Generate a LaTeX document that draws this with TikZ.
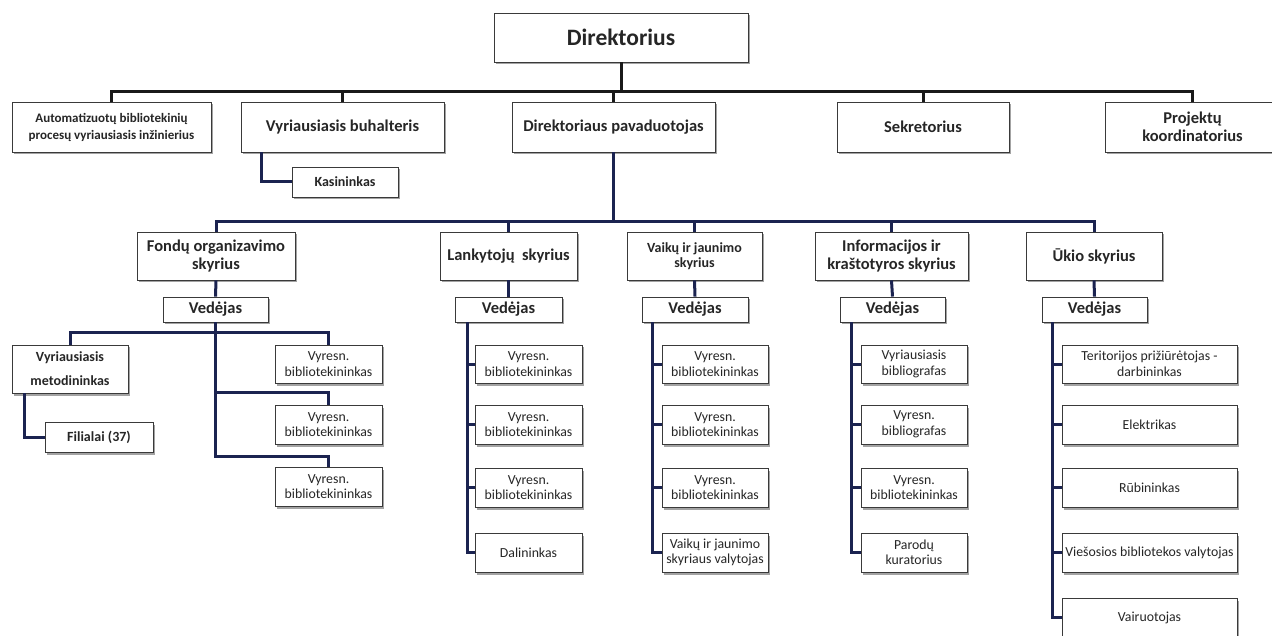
\documentclass[tikz,border=0pt]{standalone}
\usepackage{fontspec}
\setmainfont{Carlito}
\usetikzlibrary{shadows}
\definecolor{navy}{HTML}{1B2350}
\definecolor{bord}{HTML}{3A3A3A}
\begin{document}
\begin{tikzpicture}[x=1pt,y=-1pt,
  box/.style={draw=bord, line width=0.9pt, fill=white, align=center, inner sep=1pt, text=black!85,
    drop shadow={shadow xshift=1.5pt, shadow yshift=-2.5pt, fill=black!60, opacity=0.6}},
  sz/.style 2 args={minimum width=#1pt, minimum height=#2pt},
  fdir/.style={font=\bfseries\fontsize{23.5}{27}\selectfont},
  fbig/.style={font=\bfseries\fontsize{16.5}{18.5}\selectfont},
  fauto/.style={font=\bfseries\fontsize{13}{17}\selectfont},
  fsmallb/.style={font=\bfseries\fontsize{14}{15.5}\selectfont},
  fmet/.style={font=\bfseries\fontsize{14}{24}\selectfont},
  ffil/.style={font=\bfseries\fontsize{14}{16}\selectfont},
  fleaf/.style={font=\fontsize{13.8}{15.5}\selectfont},
  topline/.style={line width=3pt, black!90},
  subline/.style={line width=3pt, navy}
]
\useasboundingbox (0,0) rectangle (1272,636);
\clip (0,0) rectangle (1272,636);
\fill[white] (0,0) rectangle (1272,636);

% top
\node[box, sz={254}{49}, fdir] (dir) at (621,37.5) {Direktorius};
\node[box, sz={199}{50}, fauto] (auto) at (111.5,127) {Automatizuotų bibliotekinių\\procesų vyriausiasis inžinierius};
\node[box, sz={203}{50}, fbig] (buh) at (342.5,127) {Vyriausiasis buhalteris};
\node[box, sz={203}{50}, fbig] (pav) at (613.5,127) {Direktoriaus pavaduotojas};
\node[box, sz={172}{50}, fbig] (sek) at (923,127) {Sekretorius};
\node[box, sz={175}{50}, fbig] (proj) at (1192.5,127) {Projektų\\koordinatorius};
\node[box, sz={106}{30}, ffil] (kas) at (345,182) {Kasininkas};

% departments
\node[box, sz={158}{48}, fbig] (fond) at (216,256) {Fondų organizavimo\\skyrius};
\node[box, sz={137}{48}, fbig] (lank) at (508.5,256) {Lankytojų\ \ skyrius};
\node[box, sz={135}{48}, fsmallb] (vaik) at (694.5,256) {Vaikų ir jaunimo\\skyrius};
\node[box, sz={153}{48}, fbig] (info) at (891.5,256) {Informacijos ir\\kraštotyros skyrius};
\node[box, sz={136}{48}, fbig] (ukio) at (1094,256) {Ūkio skyrius};

% Vedejas
\node[box, sz={105}{25}, fbig] (fved) at (215.5,309.5) {Vedėjas};
\node[box, sz={107}{25}, fbig] (lved) at (508.5,309.5) {Vedėjas};
\node[box, sz={106}{25}, fbig] (vved) at (695,309.5) {Vedėjas};
\node[box, sz={105}{25}, fbig] (ived) at (892.5,309.5) {Vedėjas};
\node[box, sz={105}{25}, fbig] (uved) at (1094.5,309.5) {Vedėjas};

% Fondu subtree
\node[box, sz={116}{48}, fmet] (metod) at (70,369) {Vyriausiasis\\metodininkas};
\node[box, sz={108}{30}, ffil] (fil) at (99,437) {Filialai (37)};
\node[box, sz={107}{38}, fleaf] (fv1) at (328.5,364) {Vyresn.\\bibliotekininkas};
\node[box, sz={107}{39}, fleaf] (fv2) at (328.5,424.5) {Vyresn.\\bibliotekininkas};
\node[box, sz={107}{39}, fleaf] (fv3) at (328.5,486.5) {Vyresn.\\bibliotekininkas};

% Lankytoju
\node[box, sz={107}{38}, fleaf] (l1) at (528.5,364) {Vyresn.\\bibliotekininkas};
\node[box, sz={107}{39}, fleaf] (l2) at (528.5,424.5) {Vyresn.\\bibliotekininkas};
\node[box, sz={107}{39}, fleaf] (l3) at (528.5,487.5) {Vyresn.\\bibliotekininkas};
\node[box, sz={107}{39}, fleaf] (l4) at (528.5,552.5) {Dalininkas};

% Vaiku
\node[box, sz={106}{38}, fleaf] (v1) at (715,364) {Vyresn.\\bibliotekininkas};
\node[box, sz={106}{39}, fleaf] (v2) at (715,424.5) {Vyresn.\\bibliotekininkas};
\node[box, sz={106}{39}, fleaf] (v3) at (715,487.5) {Vyresn.\\bibliotekininkas};
\node[box, sz={106}{39}, fleaf] (v4) at (715,552.5) {Vaikų ir jaunimo\\skyriaus valytojas};

% Informacijos
\node[box, sz={106}{38}, fleaf] (i1) at (914,364) {Vyriausiasis\\bibliografas};
\node[box, sz={106}{39}, fleaf] (i2) at (914,424.5) {Vyresn.\\bibliografas};
\node[box, sz={106}{39}, fleaf] (i3) at (914,487.5) {Vyresn.\\bibliotekininkas};
\node[box, sz={106}{39}, fleaf] (i4) at (914,552.5) {Parodų\\kuratorius};

% Ukio
\node[box, sz={175}{38}, fleaf] (u1) at (1149.5,364) {Teritorijos prižiūrėtojas -\\darbininkas};
\node[box, sz={175}{39}, fleaf] (u2) at (1149.5,424.5) {Elektrikas};
\node[box, sz={175}{39}, fleaf] (u3) at (1149.5,487.5) {Rūbininkas};
\node[box, sz={175}{39}, fleaf] (u4) at (1149.5,552.5) {Viešosios bibliotekos valytojas};
\node[box, sz={175}{39}, fleaf] (u5) at (1149.5,617.5) {Vairuotojas};

% connectors top level
\coordinate (busA) at (0,92);
\draw[topline] (auto.north) |- (proj.north |- busA) -- (proj.north);
\foreach \n in {buh,pav,sek} \draw[topline] (\n.north) -- (\n.north |- busA);
\draw[topline] (dir.south) -- (dir.south |- busA);
\draw[subline] ([xshift=21pt]buh.south west) |- (kas.west);

% connectors departments
\coordinate (busB) at (0,222);
\draw[subline] (pav.south) -- (pav.south |- busB);
\draw[subline] (fond.north) |- (ukio.north |- busB) -- (ukio.north);
\foreach \n in {lank,vaik,info} \draw[subline] (\n.north) -- (\n.north |- busB);
\draw[subline] (fond.south) -- (fved.north);
\draw[subline] (lank.south) -- (lved.north);
\draw[subline] (vaik.south) -- (vved.north);
\draw[subline] (info.south) -- (ived.north);
\draw[subline] (ukio.south) -- (uved.north);

% Fondu connectors
\coordinate (fj1) at ([yshift=12pt]fv1.north);
\coordinate (fj2) at ([yshift=12pt]fv2.north);
\coordinate (fj3) at ([yshift=10pt]fv3.north);
\draw[subline] (metod.north) |- (fj1) -- (fv1.north);
\draw[subline] (fved.south) |- (fj3) -- (fv3.north);
\draw[subline] (fj2 -| fved.south) -- (fj2) -- (fv2.north);
\draw[subline] ([xshift=13pt]metod.south west) |- (fil.west);

% column connectors
\coordinate (lx) at ([xshift=13pt]lved.south west);
\draw[subline] (lx) |- (l4.west);
\foreach \i in {1,2,3} \draw[subline] (lx |- l\i.west) -- (l\i.west);
\coordinate (vx) at ([xshift=11pt]vved.south west);
\draw[subline] (vx) |- (v4.west);
\foreach \i in {1,2,3} \draw[subline] (vx |- v\i.west) -- (v\i.west);
\coordinate (ix) at ([xshift=12pt]ived.south west);
\draw[subline] (ix) |- (i4.west);
\foreach \i in {1,2,3} \draw[subline] (ix |- i\i.west) -- (i\i.west);
\coordinate (ux) at ([xshift=11pt]uved.south west);
\draw[subline] (ux) |- (u5.west);
\foreach \i in {1,2,3,4} \draw[subline] (ux |- u\i.west) -- (u\i.west);
\end{tikzpicture}
\end{document}
